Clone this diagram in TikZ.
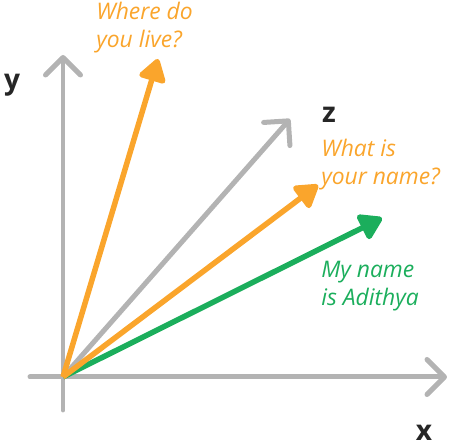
\documentclass[tikz,border=0pt]{standalone}
\usepackage{fontspec}
\setmainfont{Open Sans}
\usetikzlibrary{arrows.meta}
\definecolor{axisgray}{HTML}{B3B3B3}
\definecolor{askorange}{HTML}{FAA52C}
\definecolor{replygreen}{HTML}{1BAE5C}
\tikzset{
  axis/.style={draw=axisgray, line width=0.1cm, line cap=round,
    -{Straight Barb[length=0.35cm,width=0.7cm,round]}},
  vec/.style={line width=0.11cm,
    -{Triangle[length=0.5cm,width=0.6cm,round]}},
  axlabel/.style={text=black!85, font=\bfseries\fontsize{16}{18}\selectfont, inner sep=0pt},
  speech/.style={font=\itshape\fontsize{13}{15.6}\selectfont, align=left,
    anchor=north west, inner sep=0pt}
}

\begin{document}
\begin{tikzpicture}[x=0.02cm,y=-0.02cm]
    \useasboundingbox (0,0) rectangle (451,445);

    \coordinate (O) at (63,377);
    \coordinate (xstart) at (30,377);
    \coordinate (xend) at (447,377);
    \coordinate (ystart) at (63,410);
    \coordinate (yend) at (63,55);
    \coordinate (zend) at (290,119);

    % axes
    \draw[axis] (xstart) -- (xend);
    \draw[axis] (ystart) -- (yend);
    \draw[axis] (O) -- (zend);

    \node[axlabel] (xlab) at (424,433) {x};
    \node[axlabel] (ylab) at (12,85) {y};
    \node[axlabel] (zlab) at (329,115) {z};

    % vectors
    \coordinate (wheretip) at (158,59);
    \coordinate (whattip) at (318,185);
    \coordinate (nametip) at (382,218);

    \draw[vec, replygreen] (O) -- (nametip);
    \draw[vec, askorange] (O) -- (whattip);
    \draw[vec, askorange] (O) -- (wheretip);

    \node[speech, text=askorange] (where) at (96,2) {Where do\\you live?};
    \node[speech, text=askorange] (what) at (321,139) {What is\\your name?};
    \node[speech, text=replygreen] (reply) at (321,261) {My name\\is Adithya};
\end{tikzpicture}
\end{document}
